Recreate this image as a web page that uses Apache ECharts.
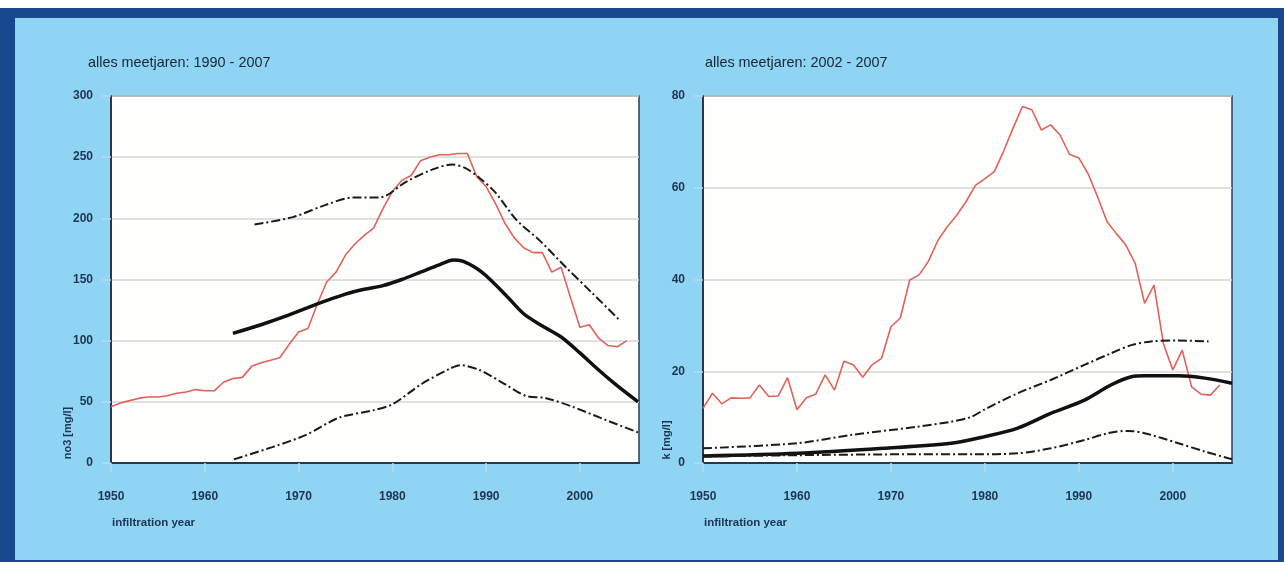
<!DOCTYPE html>
<html>
<head>
<meta charset="utf-8">
<script src="https://cdn.jsdelivr.net/npm/echarts@6/dist/echarts.min.js"></script>
<style>
  html,body{margin:0;padding:0;background:#ffffff;width:1284px;height:562px;overflow:hidden;}
  #frame{position:absolute;left:0;top:8px;width:1284px;height:554px;background:#17498c;}
  #inner{position:absolute;left:15px;top:18px;width:1263px;height:542px;background:#8fd4f2;}
  #chart{position:absolute;left:0;top:0;width:1284px;height:562px;}
</style>
</head>
<body>
<div id="frame"></div>
<div id="inner"></div>
<div id="chart"></div>
<script>
// ---------- data ----------
const titleLeft = 'alles meetjaren: 1990 - 2007';
const titleRight = 'alles meetjaren: 2002 - 2007';
const xAxisName = 'infiltration year';
const yNameLeft = 'no3 [mg/l]';
const yNameRight = 'k [mg/l]';
const xTicks = [1950, 1960, 1970, 1980, 1990, 2000];
const yTicksLeft = [0, 50, 100, 150, 200, 250, 300];
const yTicksRight = [0, 20, 40, 60, 80];

const years = [1950,1951,1952,1953,1954,1955,1956,1957,1958,1959,
               1960,1961,1962,1963,1964,1965,1966,1967,1968,1969,
               1970,1971,1972,1973,1974,1975,1976,1977,1978,1979,
               1980,1981,1982,1983,1984,1985,1986,1987,1988,1989,
               1990,1991,1992,1993,1994,1995,1996,1997,1998,1999,
               2000,2001,2002,2003,2004,2005];

// left panel: no3 measured (red)
const no3Measured = [46,49,51,53,54,54,55,57,58,60,
                     59,59,66,69,70,79,82,84,86,97,
                     107,110,130,148,156,170,179,186,192,208,
                     222,231,235,247,250,252,252,253,253,234,
                     226,212,196,184,176,172,172,156,160,135,
                     111,113,102,96,95,100];
// left panel: model median (solid black), [year, value]
const no3Median = [[1963,106],[1966,113],[1969,121],[1972,130],[1975,138],[1977,142],[1979,145],
                   [1981,150],[1983,156],[1985,162],[1986.5,166],[1987.5,165],[1989,159],[1990,153],
                   [1992,138],[1994,122],[1996,112],[1998,103],[2000,90],[2002,76],[2004,63],[2006.2,50]];
// left panel: upper band (dash-dot)
const no3Upper = [[1965.3,195],[1969.4,201],[1972.9,211],[1975.8,217],[1978.6,217],[1981.5,230],
                  [1984.3,240],[1986.4,244],[1987.8,241],[1989.3,233],[1991,221],[1993.2,199],
                  [1995.7,182],[1998.5,160],[2001.3,139],[2004.2,117]];
// left panel: lower band (dash-dot)
const no3Lower = [[1963.1,3],[1967.2,13],[1970.8,23],[1974.3,37],[1977.9,43],[1980,48],[1983.2,65],
                  [1986.1,77],[1987.2,80],[1989.3,76],[1992.1,64],[1994.2,55],[1996.4,53],[1999.2,46],
                  [2002.8,35],[2006.2,25]];

// right panel: k measured (red)
const kMeasured = [11.9,15.2,12.9,14.2,14.1,14.2,17.0,14.5,14.6,18.6,
                   11.6,14.2,15.0,19.2,15.9,22.2,21.4,18.7,21.4,22.8,
                   29.7,31.6,39.9,41,44,48.5,51.5,54,57,60.5,
                   62,63.5,68,73,77.7,77,72.6,73.7,71.5,67.3,
                   66.5,63,58,52.6,50,47.5,43.5,34.8,38.8,26,
                   20.3,24.6,16.6,15,14.8,17];
const kMedian = [[1950,1.5],[1960,2.1],[1969.2,3.2],[1976.4,4.3],[1979.9,5.7],[1983.5,7.6],[1987,10.8],
                 [1990.6,13.7],[1993.4,17],[1995.6,18.8],[1997,19.0],[2000.6,19],[2003.4,18.5],[2006.3,17.4]];
const kUpper = [[1950,3.2],[1960,4.3],[1965.7,6.1],[1972.8,7.9],[1976.4,9],[1978.5,10],[1979.9,11.6],
                [1983.5,15.2],[1987,18.1],[1990.6,21.4],[1993.4,23.9],[1995.6,25.7],[1997.7,26.5],
                [2000.6,26.7],[2003.8,26.5]];
const kLower = [[1950,1.4],[1960,1.7],[1972.8,1.9],[1979,1.9],[1983.5,2.1],[1987,3.2],[1990.6,5],
                [1993.1,6.5],[1995.2,7.0],[1997,6.5],[2000.6,4.3],[2003.4,2.5],[2006.3,0.8]];

// ---------- chart ----------
const chart = echarts.init(document.getElementById('chart'), null, {renderer: 'canvas'});
const labelColor = '#1d3553';
const redColor = '#e0625c';
const dashDot = [9, 3, 2, 3];

function xAxisCfg(gridIndex) {
  return {
    type: 'value', gridIndex: gridIndex, min: 1950, max: 2006.3, interval: 10,
    axisLine: {show: true, onZero: false, lineStyle: {color: '#24384e', width: 2}},
    axisTick: {show: true, length: 9, lineStyle: {color: '#b9dcee', width: 1.5},
               customValues: xTicks},
    axisLabel: {color: labelColor, fontSize: 12, fontFamily: 'Liberation Sans, Arial', fontWeight: 'bold',
                margin: 28, customValues: xTicks,
                formatter: v => (xTicks.indexOf(v) >= 0 ? String(v) : '')},
    splitLine: {show: false}
  };
}
function yAxisCfg(gridIndex, max, interval, ticks) {
  return {
    type: 'value', gridIndex: gridIndex, min: 0, max: max, interval: interval,
    axisLine: {show: true, lineStyle: {color: '#24384e', width: 2}},
    axisTick: {show: true, length: 9, lineStyle: {color: '#b9dcee', width: 1.5}},
    axisLabel: {color: labelColor, fontSize: 12, fontFamily: 'Liberation Sans, Arial', fontWeight: 'bold',
                margin: 18, formatter: v => (ticks.indexOf(v) >= 0 ? String(v) : '')},
    splitLine: {show: true, lineStyle: {color: '#d6d6d6', width: 1.5}}
  };
}
function lineSeries(name, xi, data, style) {
  return Object.assign({
    name: name, type: 'line', xAxisIndex: xi, yAxisIndex: xi, data: data,
    showSymbol: false, symbol: 'none', silent: true
  }, style);
}
const redStyle = {lineStyle: {color: redColor, width: 1.6}, z: 3};
const solidStyle = {smooth: 0.3, lineStyle: {color: '#111111', width: 3.5}, z: 4};
const ddStyle = {smooth: 0.3, lineStyle: {color: '#1a1a1a', width: 2, type: dashDot}, z: 4};

const txtFont = 'Liberation Sans, Arial, sans-serif';
const option = {
  animation: false,
  backgroundColor: 'transparent',
  grid: [
    {left: 111, top: 96, width: 528, height: 367, show: true, backgroundColor: '#fefefd',
     borderColor: '#2b3f55', borderWidth: 1.5},
    {left: 703, top: 96, width: 529, height: 367, show: true, backgroundColor: '#fefefd',
     borderColor: '#2b3f55', borderWidth: 1.5}
  ],
  xAxis: [xAxisCfg(0), xAxisCfg(1)],
  yAxis: [yAxisCfg(0, 300, 50, yTicksLeft), yAxisCfg(1, 80, 20, yTicksRight)],
  graphic: [
    {type: 'text', x: 88, y: 63, style: {text: titleLeft, fill: '#16263a', font: '14.4px ' + txtFont, verticalAlign: 'middle'}},
    {type: 'text', x: 705, y: 63, style: {text: titleRight, fill: '#16263a', font: '14.4px ' + txtFont, verticalAlign: 'middle'}},
    {type: 'text', x: 112, y: 523, style: {text: xAxisName, fill: labelColor, font: 'bold 11.5px ' + txtFont, verticalAlign: 'middle'}},
    {type: 'text', x: 704, y: 523, style: {text: xAxisName, fill: labelColor, font: 'bold 11.5px ' + txtFont, verticalAlign: 'middle'}},
    {type: 'text', x: 68, y: 433, rotation: Math.PI / 2, style: {text: yNameLeft, fill: labelColor, font: 'bold 11px ' + txtFont, align: 'center', verticalAlign: 'middle'}},
    {type: 'text', x: 667, y: 440, rotation: Math.PI / 2, style: {text: yNameRight, fill: labelColor, font: 'bold 11px ' + txtFont, align: 'center', verticalAlign: 'middle'}}
  ],
  series: [
    lineSeries('no3 measured', 0, years.map((y, i) => [y, no3Measured[i]]), redStyle),
    lineSeries('no3 median', 0, no3Median, solidStyle),
    lineSeries('no3 upper', 0, no3Upper, ddStyle),
    lineSeries('no3 lower', 0, no3Lower, ddStyle),
    lineSeries('k measured', 1, years.map((y, i) => [y, kMeasured[i]]), redStyle),
    lineSeries('k median', 1, kMedian, solidStyle),
    lineSeries('k upper', 1, kUpper, ddStyle),
    lineSeries('k lower', 1, kLower, ddStyle)
  ]
};
chart.setOption(option);
</script>
</body>
</html>
